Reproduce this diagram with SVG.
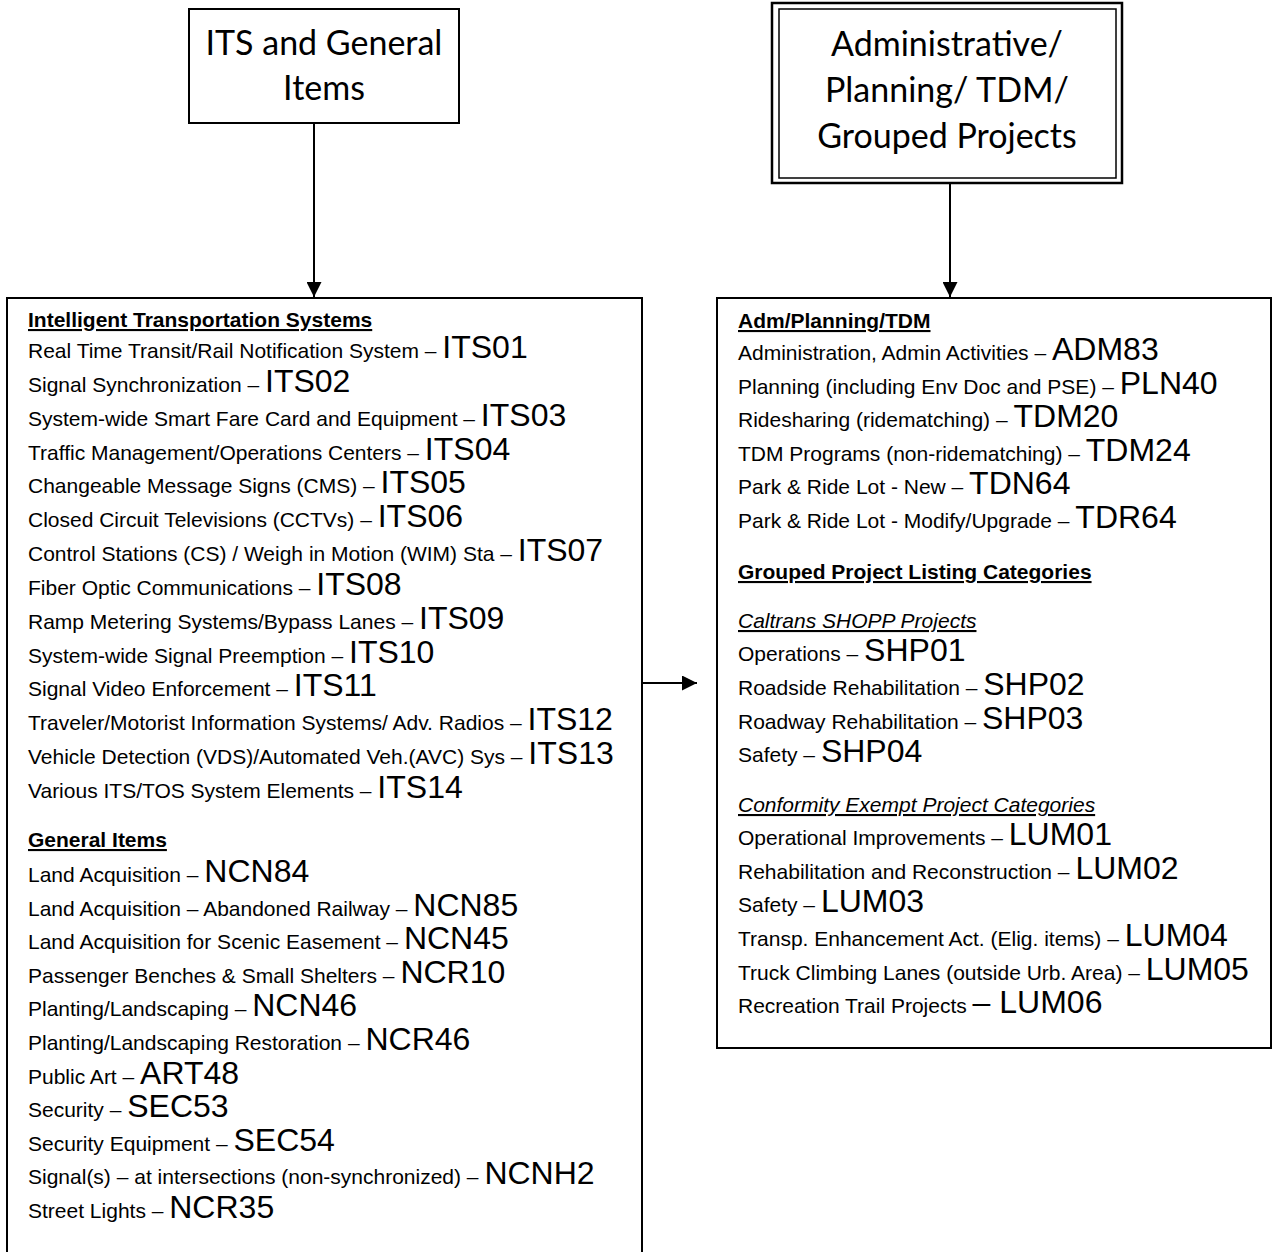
<svg xmlns="http://www.w3.org/2000/svg" width="1273" height="1252" viewBox="0 0 1273 1252">
<style>
.box{fill:#fff;stroke:#000;stroke-width:2}
.title{font-family:Lato,"Liberation Sans",sans-serif;font-size:34px;text-anchor:middle;fill:#000}
.t{font-family:"Liberation Sans",Arial,sans-serif;font-size:21px;fill:#000}
.c{font-size:32px}
.h{font-weight:bold;text-decoration:underline}
.i{font-style:italic;text-decoration:underline}
.conn{stroke:#000;stroke-width:2;fill:none}
</style>
<defs>
<marker id="ah" viewBox="0 0 10 10" refX="10" refY="5" markerWidth="15" markerHeight="15" markerUnits="userSpaceOnUse" orient="auto">
<path d="M0,0 L10,5 L0,10 z" fill="#000"/>
</marker>
</defs>
<rect width="1273" height="1252" fill="#fff"/>
<g id="its-title">
<rect class="box" x="189" y="9" width="270" height="114"/>
<text class="title" x="324" y="55">ITS and General</text>
<text class="title" x="324" y="100">Items</text>
</g>
<g id="adm-title">
<rect x="772" y="3" width="350" height="180" fill="#fff" stroke="#000" stroke-width="2.5"/>
<rect x="779" y="9" width="337" height="169" fill="none" stroke="#000" stroke-width="1.5"/>
<text class="title" x="947" y="56">Administrative/</text>
<text class="title" x="947" y="102">Planning/ TDM/</text>
<text class="title" x="947" y="148">Grouped Projects</text>
</g>
<g id="its-list">
<rect class="box" x="7" y="298" width="635" height="970"/>
<text class="t h" x="28" y="327">Intelligent Transportation Systems</text>
<text class="t" x="28" y="358">Real Time Transit/Rail Notification System – <tspan class="c">ITS01</tspan></text>
<text class="t" x="28" y="392">Signal Synchronization – <tspan class="c">ITS02</tspan></text>
<text class="t" x="28" y="426">System-wide Smart Fare Card and Equipment – <tspan class="c">ITS03</tspan></text>
<text class="t" x="28" y="460">Traffic Management/Operations Centers – <tspan class="c">ITS04</tspan></text>
<text class="t" x="28" y="493">Changeable Message Signs (CMS) – <tspan class="c">ITS05</tspan></text>
<text class="t" x="28" y="527">Closed Circuit Televisions (CCTVs) – <tspan class="c">ITS06</tspan></text>
<text class="t" x="28" y="561">Control Stations (CS) / Weigh in Motion (WIM) Sta – <tspan class="c">ITS07</tspan></text>
<text class="t" x="28" y="595">Fiber Optic Communications – <tspan class="c">ITS08</tspan></text>
<text class="t" x="28" y="629">Ramp Metering Systems/Bypass Lanes – <tspan class="c">ITS09</tspan></text>
<text class="t" x="28" y="663">System-wide Signal Preemption – <tspan class="c">ITS10</tspan></text>
<text class="t" x="28" y="696">Signal Video Enforcement – <tspan class="c">ITS11</tspan></text>
<text class="t" x="28" y="730">Traveler/Motorist Information Systems/ Adv. Radios – <tspan class="c">ITS12</tspan></text>
<text class="t" x="28" y="764">Vehicle Detection (VDS)/Automated Veh.(AVC) Sys – <tspan class="c">ITS13</tspan></text>
<text class="t" x="28" y="798">Various ITS/TOS System Elements – <tspan class="c">ITS14</tspan></text>
<text class="t h" x="28" y="847">General Items</text>
<text class="t" x="28" y="882">Land Acquisition – <tspan class="c">NCN84</tspan></text>
<text class="t" x="28" y="916">Land Acquisition – Abandoned Railway – <tspan class="c">NCN85</tspan></text>
<text class="t" x="28" y="949">Land Acquisition for Scenic Easement – <tspan class="c">NCN45</tspan></text>
<text class="t" x="28" y="983">Passenger Benches &amp; Small Shelters – <tspan class="c">NCR10</tspan></text>
<text class="t" x="28" y="1016">Planting/Landscaping – <tspan class="c">NCN46</tspan></text>
<text class="t" x="28" y="1050">Planting/Landscaping Restoration – <tspan class="c">NCR46</tspan></text>
<text class="t" x="28" y="1084">Public Art – <tspan class="c">ART48</tspan></text>
<text class="t" x="28" y="1117">Security – <tspan class="c">SEC53</tspan></text>
<text class="t" x="28" y="1151">Security Equipment – <tspan class="c">SEC54</tspan></text>
<text class="t" x="28" y="1184">Signal(s) – at intersections (non-synchronized) – <tspan class="c">NCNH2</tspan></text>
<text class="t" x="28" y="1218">Street Lights – <tspan class="c">NCR35</tspan></text>
</g>
<g id="adm-list">
<rect class="box" x="717" y="298" width="554" height="750"/>
<text class="t h" x="738" y="328">Adm/Planning/TDM</text>
<text class="t" x="738" y="360">Administration, Admin Activities – <tspan class="c">ADM83</tspan></text>
<text class="t" x="738" y="394">Planning (including Env Doc and PSE) – <tspan class="c">PLN40</tspan></text>
<text class="t" x="738" y="427">Ridesharing (ridematching) – <tspan class="c">TDM20</tspan></text>
<text class="t" x="738" y="461">TDM Programs (non-ridematching) – <tspan class="c">TDM24</tspan></text>
<text class="t" x="738" y="494">Park &amp; Ride Lot - New – <tspan class="c">TDN64</tspan></text>
<text class="t" x="738" y="528">Park &amp; Ride Lot - Modify/Upgrade – <tspan class="c">TDR64</tspan></text>
<text class="t h" x="738" y="579">Grouped Project Listing Categories</text>
<text class="t i" x="738" y="628">Caltrans SHOPP Projects</text>
<text class="t" x="738" y="661">Operations – <tspan class="c">SHP01</tspan></text>
<text class="t" x="738" y="695">Roadside Rehabilitation – <tspan class="c">SHP02</tspan></text>
<text class="t" x="738" y="729">Roadway Rehabilitation – <tspan class="c">SHP03</tspan></text>
<text class="t" x="738" y="762">Safety – <tspan class="c">SHP04</tspan></text>
<text class="t i" x="738" y="812">Conformity Exempt Project Categories</text>
<text class="t" x="738" y="845">Operational Improvements – <tspan class="c">LUM01</tspan></text>
<text class="t" x="738" y="879">Rehabilitation and Reconstruction – <tspan class="c">LUM02</tspan></text>
<text class="t" x="738" y="912">Safety – <tspan class="c">LUM03</tspan></text>
<text class="t" x="738" y="946">Transp. Enhancement Act. (Elig. items) – <tspan class="c">LUM04</tspan></text>
<text class="t" x="738" y="980">Truck Climbing Lanes (outside Urb. Area) – <tspan class="c">LUM05</tspan></text>
<text class="t" x="738" y="1013">Recreation Trail Projects <tspan class="c">– LUM06</tspan></text>
</g>
<g id="connectors">
<line class="conn" x1="314" y1="123" x2="314" y2="297" marker-end="url(#ah)"/>
<line class="conn" x1="950" y1="183" x2="950" y2="297" marker-end="url(#ah)"/>
<line class="conn" x1="642" y1="683" x2="697" y2="683" marker-end="url(#ah)"/>
</g>
</svg>
